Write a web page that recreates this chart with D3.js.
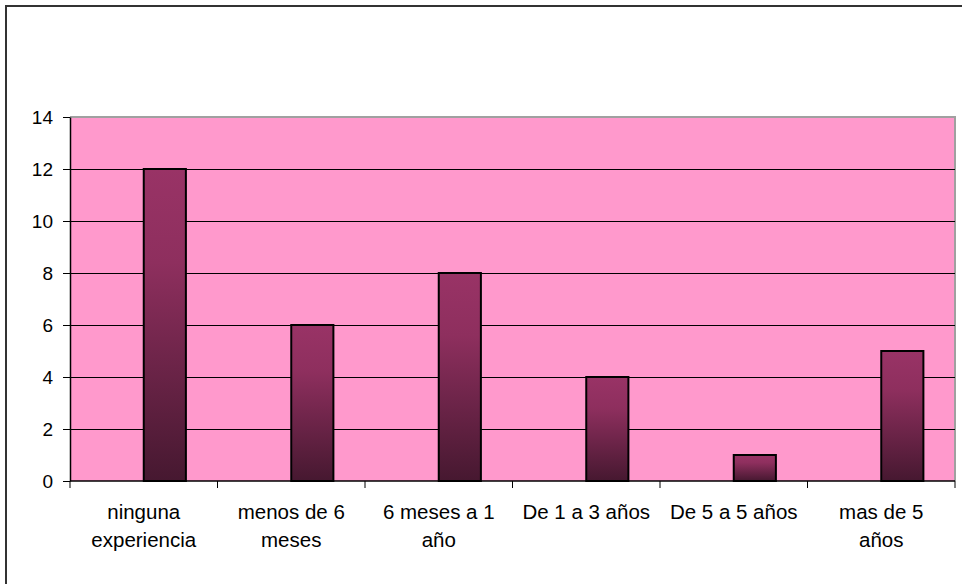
<!DOCTYPE html>
<html>
<head>
<meta charset="utf-8">
<script src="https://cdn.jsdelivr.net/npm/d3@7/dist/d3.min.js"></script>
<style>
  html, body { margin: 0; padding: 0; background: #ffffff; }
  svg { display: block; }
  text { font-family: Arial, "Liberation Sans", sans-serif; fill: #000; }
</style>
</head>
<body>
<svg id="chart" width="962" height="584"></svg>
<script>
// Years of experience (category labels, "\n" marks a line break)
const categories = [
  "ninguna\nexperiencia",
  "menos de 6\nmeses",
  "6 meses a 1\naño",
  "De 1 a 3 años",
  "De 5 a 5 años",
  "mas de 5\naños"
];
// Count of people per category
const values = [12, 6, 8, 4, 1, 5];
// Value axis ticks
const yTicks = [0, 2, 4, 6, 8, 10, 12, 14];
// Two slots per category; bars sit in the second slot
const slots = ["a", "b"];

const svg = d3.select("#chart");
const W = 962, H = 584;
const plot = { left: 70, right: 955, top: 117, bottom: 481 };

// Outer frame (left and top edges)
svg.append("line").attr("x1", 6).attr("x2", 6).attr("y1", 6).attr("y2", H)
  .attr("stroke", "#333").attr("stroke-width", 2);
svg.append("line").attr("x1", 5).attr("x2", W).attr("y1", 6).attr("y2", 6)
  .attr("stroke", "#333").attr("stroke-width", 2);

const x0 = d3.scaleBand().domain(categories).range([plot.left, plot.right])
  .paddingInner(0).paddingOuter(0);
const x1 = d3.scaleBand().domain(slots).range([0, x0.bandwidth()])
  .paddingInner(0).paddingOuter(0.75);
const y = d3.scaleLinear().domain([0, 14]).range([plot.bottom, plot.top]);

// Gradient fill for bars
const defs = svg.append("defs");
const grad = defs.append("linearGradient").attr("id", "barGrad")
  .attr("x1", 0).attr("y1", 0).attr("x2", 0).attr("y2", 1);
grad.append("stop").attr("offset", "0%").attr("stop-color", "#993366");
grad.append("stop").attr("offset", "30%").attr("stop-color", "#8e2f5e");
grad.append("stop").attr("offset", "100%").attr("stop-color", "#461830");

// Plot area background with grey top/right edge
svg.append("rect")
  .attr("x", plot.left).attr("y", plot.top)
  .attr("width", plot.right - plot.left).attr("height", plot.bottom - plot.top)
  .attr("fill", "#ff99cc");
svg.append("polyline")
  .attr("points", `${plot.left},${plot.top} ${plot.right},${plot.top} ${plot.right},${plot.bottom}`)
  .attr("fill", "none").attr("stroke", "#a0a0a0").attr("stroke-width", 2);

// Horizontal gridlines
svg.append("g").selectAll("line")
  .data(yTicks.filter(t => t > 0 && t < 14))
  .join("line")
  .attr("x1", plot.left).attr("x2", plot.right)
  .attr("y1", d => Math.round(y(d)) + 0.5).attr("y2", d => Math.round(y(d)) + 0.5)
  .attr("stroke", "#000").attr("stroke-width", 1);

// Bars
svg.append("g").selectAll("rect")
  .data(values)
  .join("rect")
  .attr("x", (d, i) => x0(categories[i]) + x1("b"))
  .attr("y", d => y(d))
  .attr("width", x1.bandwidth())
  .attr("height", d => y(0) - y(d))
  .attr("fill", "url(#barGrad)")
  .attr("stroke", "#000").attr("stroke-width", 2);

// Value axis
const yAxis = svg.append("g")
  .attr("transform", `translate(${plot.left},0)`)
  .call(d3.axisLeft(y).tickValues(yTicks).tickSize(7).tickPadding(10).tickSizeOuter(0));
yAxis.select(".domain").attr("stroke", "#000").attr("stroke-width", 1.5);
yAxis.selectAll(".tick line").attr("stroke", "#000");
yAxis.selectAll(".tick text").style("font-size", "19px")
  .style("font-family", "Arial, 'Liberation Sans', sans-serif");

// Category axis line and boundary ticks
svg.append("line")
  .attr("x1", plot.left).attr("x2", plot.right)
  .attr("y1", y(0)).attr("y2", y(0))
  .attr("stroke", "#000").attr("stroke-width", 1.5);
const bounds = categories.map(c => x0(c)).concat([x0.range()[1]]);
svg.append("g").selectAll("line")
  .data(bounds)
  .join("line")
  .attr("x1", d => d).attr("x2", d => d)
  .attr("y1", y(0)).attr("y2", y(0) + 7)
  .attr("stroke", "#000").attr("stroke-width", 1);

// Category labels
const labels = svg.append("g").selectAll("text")
  .data(categories)
  .join("text")
  .attr("x", d => x0(d) + x0.bandwidth() / 2)
  .attr("y", 518.5)
  .attr("text-anchor", "middle")
  .style("font-size", "20.5px");
labels.each(function(d) {
  const t = d3.select(this);
  const x = x0(d) + x0.bandwidth() / 2;
  d.split("\n").forEach((line, i) => {
    t.append("tspan").attr("x", x).attr("dy", i === 0 ? 0 : 28).text(line);
  });
});
</script>
</body>
</html>
